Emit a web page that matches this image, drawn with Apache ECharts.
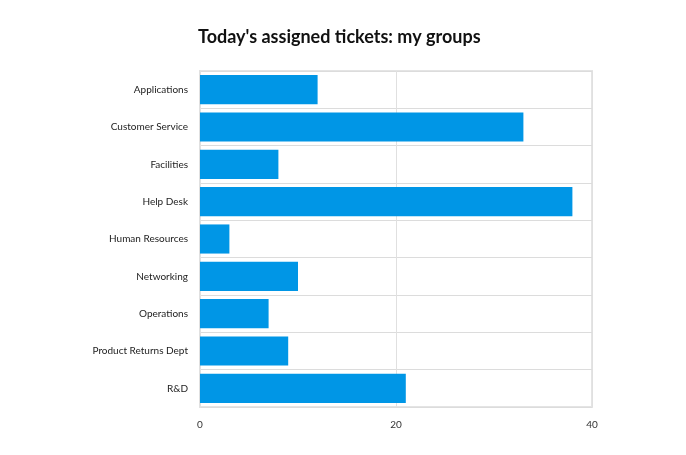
<!DOCTYPE html>
<html><head><meta charset="utf-8">
<script src="https://cdn.jsdelivr.net/npm/echarts@6/dist/echarts.min.js"></script>
<style>html,body{margin:0;padding:0;background:#fff}#c{width:686px;height:455px}</style>
</head><body><div id="c"></div>
<script>
const categories = ["Applications","Customer Service","Facilities","Help Desk","Human Resources","Networking","Operations","Product Returns Dept","R&D"];
const tickets = [12,33,8,38,3,10,7,9,21];
const xTicks = [0,20,40];

const chart = echarts.init(document.getElementById('c'));
chart.setOption({
  animation:false,
  title:{text:"Today's assigned tickets: my groups",left:193,top:23,textStyle:{fontFamily:'Lato',fontWeight:'bold',fontSize:18,color:'#111'}},
  grid:{left:200,right:94,top:71,bottom:48,show:true,borderColor:'#e4e4e4',borderWidth:2},
  xAxis:{type:'value',min:0,max:40,interval:20,
    axisLabel:{fontFamily:'Lato',fontSize:10,color:'#333',margin:13},
    axisLine:{show:false},axisTick:{show:false},
    splitLine:{lineStyle:{color:'#e0e0e0'}}},
  yAxis:{type:'category',inverse:true,data:categories,
    axisLabel:{fontFamily:'Lato',fontSize:10,color:'#222',margin:12},
    axisLine:{show:true,lineStyle:{color:'#e0e0e0',width:2}},axisTick:{show:false},
    splitLine:{show:true,interval:0,lineStyle:{color:'#dcdcdc'}}},
  series:[{type:'bar',data:tickets,barCategoryGap:'22%',
    itemStyle:{color:'#0096e6'}}]
});
</script></body></html>
